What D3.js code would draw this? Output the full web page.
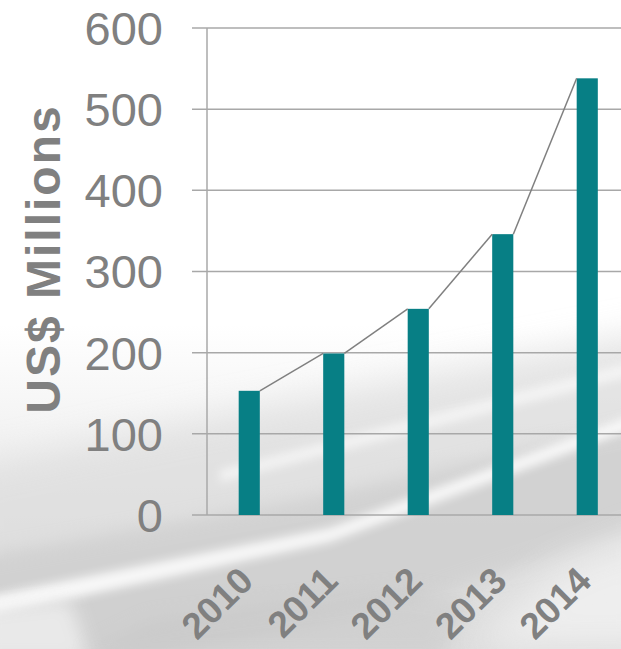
<!DOCTYPE html>
<html>
<head>
<meta charset="utf-8">
<script src="https://cdn.jsdelivr.net/npm/d3@7"></script>
<style>
  html, body { margin: 0; padding: 0; background: #fff; }
  svg { display: block; }
</style>
</head>
<body>
<svg id="chart" width="621" height="649"></svg>
<script>
const categories = ["2010", "2011", "2012", "2013", "2014"];
const values = [153, 199, 254, 346, 538];
const yTicks = [0, 100, 200, 300, 400, 500, 600];
const yTitle = "US$ Millions";

const W = 621, H = 649;
const svg = d3.select("#chart");

// ---------- background (faded photo impression) ----------
const defs = svg.append("defs");
function addBlur(id, sd) {
  const f = defs.append("filter").attr("id", id)
    .attr("x", "-30%").attr("y", "-30%").attr("width", "160%").attr("height", "160%");
  f.append("feGaussianBlur").attr("stdDeviation", sd);
}
addBlur("blurL", 18);
addBlur("blurM", 9);
addBlur("blurS", 5);

const g1 = defs.append("linearGradient").attr("id", "bgGrad").attr("x1", 0).attr("y1", 0).attr("x2", 0).attr("y2", 1);
g1.append("stop").attr("offset", "0%").attr("stop-color", "#ffffff");
g1.append("stop").attr("offset", "50%").attr("stop-color", "#ffffff");
g1.append("stop").attr("offset", "72%").attr("stop-color", "#efefef");
g1.append("stop").attr("offset", "100%").attr("stop-color", "#dcdcdc");

const bg = svg.append("g");
bg.append("rect").attr("width", W).attr("height", H).attr("fill", "url(#bgGrad)");
bg.append("path").attr("d", "M-40,470 L200,420 L660,330 L660,600 L-40,700 Z")
  .attr("fill", "#dcdcdc").attr("opacity", 0.7).attr("filter", "url(#blurL)");
bg.append("path").attr("d", "M-40,560 L300,500 L660,420 L660,520 L420,600 L150,660 L-40,680 Z")
  .attr("fill", "#c9c9c9").attr("opacity", 0.6).attr("filter", "url(#blurM)");
bg.append("path").attr("d", "M-20,598 L330,528 L660,405 L660,418 L330,542 L-20,618 Z")
  .attr("fill", "#ffffff").attr("opacity", 0.85).attr("filter", "url(#blurS)");
bg.append("path").attr("d", "M220,470 L660,355 L660,368 L220,482 Z")
  .attr("fill", "#ffffff").attr("opacity", 0.6).attr("filter", "url(#blurS)");
bg.append("path").attr("d", "M470,649 L560,570 L660,530 L660,649 Z")
  .attr("fill", "#f2f2f2").attr("opacity", 0.8).attr("filter", "url(#blurL)");
bg.append("path").attr("d", "M-20,610 L70,600 L90,660 L-20,660 Z")
  .attr("fill", "#f0f0f0").attr("opacity", 0.8).attr("filter", "url(#blurM)");
bg.append("path").attr("d", "M90,649 L150,620 L400,590 L470,600 L440,660 L90,660 Z")
  .attr("fill", "#c6c6c6").attr("opacity", 0.5).attr("filter", "url(#blurM)");

// ---------- scales ----------
const y = d3.scaleLinear().domain([0, 600]).range([515, 28]);
const x = d3.scaleBand().domain(categories).range([207, 629.5]).paddingInner(0.75).paddingOuter(0.375);

const gridColor = "#a8a8a8";
const textColor = "#808080";

svg.append("g").selectAll("line").data(yTicks).join("line")
  .attr("x1", 192).attr("x2", W)
  .attr("y1", d => y(d)).attr("y2", d => y(d))
  .attr("stroke", gridColor).attr("stroke-width", 1.5);

svg.append("line").attr("x1", 207).attr("x2", 207)
  .attr("y1", y(600)).attr("y2", y(0))
  .attr("stroke", gridColor).attr("stroke-width", 1.5);

svg.append("g").selectAll("text").data(yTicks).join("text")
  .attr("x", 163).attr("y", d => y(d)).attr("dy", "0.36em")
  .attr("text-anchor", "end")
  .attr("font-family", "'Liberation Sans', Arial, sans-serif")
  .attr("font-size", 47).attr("fill", textColor)
  .text(d => d);

svg.append("text")
  .attr("transform", "translate(60,259) rotate(-90)")
  .attr("text-anchor", "middle")
  .attr("font-family", "'Liberation Sans', Arial, sans-serif")
  .attr("font-weight", "bold").attr("font-size", 48)
  .attr("letter-spacing", 2)
  .attr("fill", textColor)
  .text(yTitle);

svg.append("g").selectAll("rect").data(categories).join("rect")
  .attr("x", d => x(d)).attr("width", x.bandwidth())
  .attr("y", (d, i) => y(values[i])).attr("height", (d, i) => y(0) - y(values[i]))
  .attr("fill", "#077f85");

const segs = d3.range(categories.length - 1).map(i => [
  [x(categories[i]) + x.bandwidth(), y(values[i])],
  [x(categories[i + 1]), y(values[i + 1])]
]);
svg.append("g").selectAll("line").data(segs).join("line")
  .attr("x1", d => d[0][0]).attr("y1", d => d[0][1])
  .attr("x2", d => d[1][0]).attr("y2", d => d[1][1])
  .attr("stroke", "#808080").attr("stroke-width", 1.5);

svg.append("g").selectAll("text").data(categories).join("text")
  .attr("transform", d => `translate(${x(d) + x.bandwidth() / 2 + 6},583) rotate(-45)`)
  .attr("text-anchor", "end")
  .attr("font-family", "'Liberation Sans', Arial, sans-serif")
  .attr("font-weight", "bold").attr("font-size", 37)
  .attr("fill", textColor)
  .text(d => d);
</script>
</body>
</html>
